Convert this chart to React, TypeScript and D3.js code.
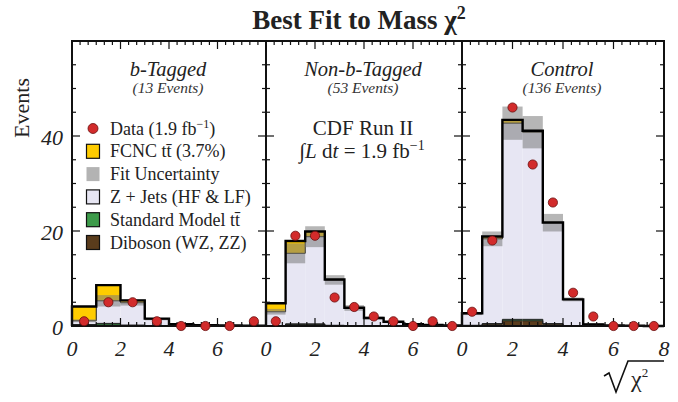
import React from "react";
import * as d3 from "d3";

// ---------- data ----------
const panelTitles = ["b-Tagged", "Non-b-Tagged", "Control"];
const panelCounts = ["(13 Events)", "(53 Events)", "(136 Events)"];
const binWidths = [1, 0.8, 0.8];

// b-Tagged (8 bins of width 1)
const bTagDiboson = [0.15, 0.2, 0.1, 0.05, 0, 0, 0, 0];
const bTagSMtt = [0.15, 0.35, 0.1, 0.05, 0, 0, 0, 0];
const bTagZJets = [0.8, 4.75, 4.7, 1.35, 0.35, 0.15, 0.1, 0.05];
const bTagFCNC = [3.0, 3.3, 0.5, 0.1, 0.05, 0, 0, 0];
const bTagUnc = [0.3, 1.2, 0.6, 0.25, 0.1, 0.05, 0, 0];
const bTagData = [1, 5, 5, 1, 0, 0, 0, 1];

// Non-b-Tagged (10 bins of width 0.8)
const nonBDiboson = [0.05, 0.35, 0.35, 0.1, 0.05, 0, 0, 0, 0, 0];
const nonBSMtt = [0.05, 0.1, 0.1, 0.05, 0, 0, 0, 0, 0, 0];
const nonBZJets = [2.9, 14.85, 18.35, 9.55, 3.75, 1.7, 0.9, 0.4, 0.2, 0.1];
const nonBFCNC = [1.8, 2.6, 1.1, 0.1, 0.05, 0, 0, 0, 0, 0];
const nonBUnc = [0.6, 2.1, 2.2, 1.0, 0.6, 0.3, 0.15, 0.1, 0.05, 0];
const nonBData = [1, 19, 19, 6, 4, 2, 1, 0, 1, 0];

// Control (10 bins of width 0.8)
const ctrlDiboson = [0.1, 0.4, 1.1, 1.1, 0.4, 0.05, 0, 0, 0, 0];
const ctrlSMtt = [0.05, 0.1, 0.3, 0.3, 0.1, 0.05, 0, 0, 0, 0];
const ctrlZJets = [2.45, 17.85, 41.3, 39.4, 21.25, 5.5, 0.35, 0.1, 0.05, 0];
const ctrlFCNC = [0.1, 0.5, 0.7, 0.3, 0.05, 0, 0, 0, 0, 0];
const ctrlUnc = [0.3, 1.55, 3.5, 3.4, 1.85, 0.4, 0.1, 0, 0, 0];
const ctrlData = [3, 18, 46, 34, 26, 7, 2, 0, 0, 0];

const xTickLabels = ["0", "2", "4", "6", "8"];
const yTickLabels = ["0", "20", "40"];

const panelData = [
  { dib: bTagDiboson, sm: bTagSMtt, zj: bTagZJets, fcnc: bTagFCNC, unc: bTagUnc, data: bTagData },
  { dib: nonBDiboson, sm: nonBSMtt, zj: nonBZJets, fcnc: nonBFCNC, unc: nonBUnc, data: nonBData },
  { dib: ctrlDiboson, sm: ctrlSMtt, zj: ctrlZJets, fcnc: ctrlFCNC, unc: ctrlUnc, data: ctrlData },
];

// ---------- layout ----------
const W = 678;
const H = 402;
const panelEdges = [72, 266, 462, 664];
const yTop = 41;
const yBottom = 326;

const C = {
  dib: "#5a3c1c",
  sm: "#3d9b4a",
  zj: "#e7e6f3",
  fcnc: "#ffcc00",
  band: "#7a7a7a",
  data: "#d22b2b",
};

const serif = "'Liberation Serif', 'Times New Roman', serif";

function stepPath(x: d3.ScaleLinear<number, number>, y: d3.ScaleLinear<number, number>, edges: number[], vals: number[]) {
  const p = d3.path();
  p.moveTo(x(edges[0]), y(0));
  vals.forEach((v, i) => {
    p.lineTo(x(edges[i]), y(v));
    p.lineTo(x(edges[i + 1]), y(v));
  });
  p.lineTo(x(edges[edges.length - 1]), y(0));
  return p.toString();
}

function Panel({ idx }: { idx: number }) {
  const d = panelData[idx];
  const bw = binWidths[idx];
  const n = d.data.length;
  const x = d3.scaleLinear().domain([0, 8]).range([panelEdges[idx], panelEdges[idx + 1]]);
  const y = d3.scaleLinear().domain([0, 60]).range([yBottom, yTop]);
  const edges = d3.range(n + 1).map((i) => i * bw);
  const layers = [
    { key: "dib", vals: d.dib },
    { key: "sm", vals: d.sm },
    { key: "zj", vals: d.zj },
    { key: "fcnc", vals: d.fcnc },
  ];
  const cum: number[][] = [];
  let acc = new Array(n).fill(0);
  layers.forEach((l) => {
    const lo = acc.slice();
    acc = acc.map((a, i) => a + l.vals[i]);
    cum.push(lo, acc.slice());
  });
  const bkg = d.dib.map((v, i) => v + d.sm[i] + d.zj[i]);
  const total = bkg.map((v, i) => v + d.fcnc[i]);

  const x0 = panelEdges[idx];
  const x1 = panelEdges[idx + 1];
  const xMinor = d3.range(0, 8.001, 1 / 3);
  const yMinor = d3.range(0, 60.001, 5);

  return (
    <g>
      {layers.map((l, li) =>
        l.vals.map((v, i) => {
          const lo = cum[li * 2][i];
          const hi = cum[li * 2 + 1][i];
          if (hi - lo <= 0) return null;
          return (
            <rect
              key={`${l.key}-${i}`}
              x={x(edges[i])}
              y={y(hi)}
              width={x(edges[i + 1]) - x(edges[i])}
              height={y(lo) - y(hi)}
              fill={(C as any)[l.key]}
            />
          );
        })
      )}
      {layers.map((l, li) => (
        <path key={`o-${l.key}`} d={stepPath(x, y, edges, cum[li * 2 + 1])} fill="none" stroke="#1a1a1a" strokeWidth={1} />
      ))}
      {bkg.map((b, i) =>
        d.unc[i] > 0 ? (
          <rect
            key={`u-${i}`}
            x={x(edges[i])}
            y={y(b + d.unc[i])}
            width={x(edges[i + 1]) - x(edges[i])}
            height={y(Math.max(0, b - d.unc[i])) - y(b + d.unc[i])}
            fill={C.band}
            opacity={0.55}
          />
        ) : null
      )}
      <path d={stepPath(x, y, edges, total)} fill="none" stroke="#000" strokeWidth={2.4} strokeLinejoin="miter" />
      {/* frame */}
      <rect x={x0} y={yTop} width={x1 - x0} height={yBottom - yTop} fill="none" stroke="#111" strokeWidth={2} />
      {/* x ticks top & bottom */}
      {xMinor.map((t, i) => {
        const major = i % 6 === 0;
        const len = major ? 8 : 4;
        const xx = x(t);
        return (
          <g key={`xt-${i}`} stroke="#111" strokeWidth={1.2}>
            <line x1={xx} x2={xx} y1={yTop} y2={yTop + len} />
            <line x1={xx} x2={xx} y1={yBottom} y2={yBottom - len} />
          </g>
        );
      })}
      {/* y ticks on both edges */}
      {yMinor.map((t, i) => {
        const major = i % 4 === 0;
        const len = major ? 8 : 4;
        const yy = y(t);
        return (
          <g key={`yt-${i}`} stroke="#111" strokeWidth={1.2}>
            <line x1={x0} x2={x0 + len} y1={yy} y2={yy} />
            <line x1={x1} x2={x1 - len} y1={yy} y2={yy} />
          </g>
        );
      })}
      {/* x tick labels */}
      {xTickLabels.map((lab, i) => {
        if (i === 4 && idx !== 2) return null;
        return (
          <text key={`xl-${i}`} x={x(+lab)} y={356} textAnchor="middle" fontFamily={serif} fontStyle="italic" fontSize={22} fill="#222">
            {lab}
          </text>
        );
      })}
      {/* panel titles */}
      <text x={(x0 + x1) / 2 - 1} y={76} textAnchor="middle" fontFamily={serif} fontStyle="italic" fontSize={20.5} fill="#222">
        {panelTitles[idx]}
      </text>
      <text x={(x0 + x1) / 2 - 1} y={93} textAnchor="middle" fontFamily={serif} fontStyle="italic" fontSize={15.5} fill="#333">
        {panelCounts[idx]}
      </text>
      {/* data */}
      {d.data.map((v, i) => (
        <circle
          key={`d-${i}`}
          cx={x(edges[i] + bw / 2)}
          cy={y(v)}
          r={4.6}
          fill={C.data}
          stroke="#6a0d0d"
          strokeWidth={0.8}
        />
      ))}
    </g>
  );
}

const legendItems = [
  { kind: "circle", color: C.data, label: ["Data (1.9 fb", "−1", ")"] },
  { kind: "box", color: C.fcnc, label: ["FCNC tt\u0304 (3.7%)"] },
  { kind: "band", color: "#b3b3b3", label: ["Fit Uncertainty"] },
  { kind: "box", color: C.zj, label: ["Z + Jets (HF & LF)"] },
  { kind: "box", color: C.sm, label: ["Standard Model tt\u0304"] },
  { kind: "box", color: C.dib, label: ["Diboson (WZ, ZZ)"] },
];

export default function App() {
  const y = d3.scaleLinear().domain([0, 60]).range([yBottom, yTop]);
  return (
    <svg width={W} height={H} viewBox={`0 0 ${W} ${H}`} style={{ display: "block", position: "absolute", left: 0, top: 0, background: "#fff" }}>
      <rect width={W} height={H} fill="#fff" />
      <text x={359} y={29} textAnchor="middle" fontFamily={serif} fontWeight="bold" fontSize={27} fill="#222">
        Best Fit to Mass χ<tspan dy={-10} fontSize={18}>2</tspan>
      </text>
      {[0, 1, 2].map((i) => (
        <Panel key={i} idx={i} />
      ))}
      {/* y axis labels */}
      {yTickLabels.map((lab) => (
        <text key={lab} x={63} y={y(+lab) + 9} textAnchor="end" fontFamily={serif} fontStyle="italic" fontSize={22} fill="#222">
          {lab}
        </text>
      ))}
      <text transform="translate(29,108) rotate(-90)" textAnchor="middle" fontFamily={serif} fontSize={22} fill="#222">
        Events
      </text>
      {/* legend */}
      {legendItems.map((it, i) => {
        const cy = 128.5 + i * 22.8;
        return (
          <g key={i}>
            {it.kind === "circle" ? (
              <circle cx={93} cy={cy} r={5} fill={it.color} stroke="#6a0d0d" strokeWidth={0.8} />
            ) : it.kind === "band" ? (
              <rect x={86.5} y={cy - 7} width={13} height={14} fill={it.color} />
            ) : (
              <rect x={86.5} y={cy - 7} width={13} height={14} fill={it.color} stroke="#111" strokeWidth={1.2} />
            )}
            <text x={110} y={cy + 6} fontFamily={serif} fontSize={18} fill="#222">
              {it.label[0]}
              {it.label.length > 1 ? (
                <>
                  <tspan dy={-7} fontSize={12}>{it.label[1]}</tspan>
                  <tspan dy={7}>{it.label[2]}</tspan>
                </>
              ) : null}
            </text>
          </g>
        );
      })}
      {/* CDF label */}
      <text x={363} y={135} textAnchor="middle" fontFamily={serif} fontSize={21} fill="#222">
        CDF Run II
      </text>
      <text x={362} y={158} textAnchor="middle" fontFamily={serif} fontSize={21} fill="#222">
        ∫<tspan fontStyle="italic">L</tspan> d<tspan fontStyle="italic">t</tspan> = 1.9 fb<tspan dy={-8} fontSize={14}>−1</tspan>
      </text>
      {/* x axis title: sqrt(chi^2) */}
      <path d="M604,376 L609,373 L616,392 L628,361 L664,361" fill="none" stroke="#111" strokeWidth={1.6} />
      <text x={631} y={387} fontFamily={serif} fontSize={24} fill="#222">
        χ<tspan dy={-10} fontSize={13}>2</tspan>
      </text>
    </svg>
  );
}
